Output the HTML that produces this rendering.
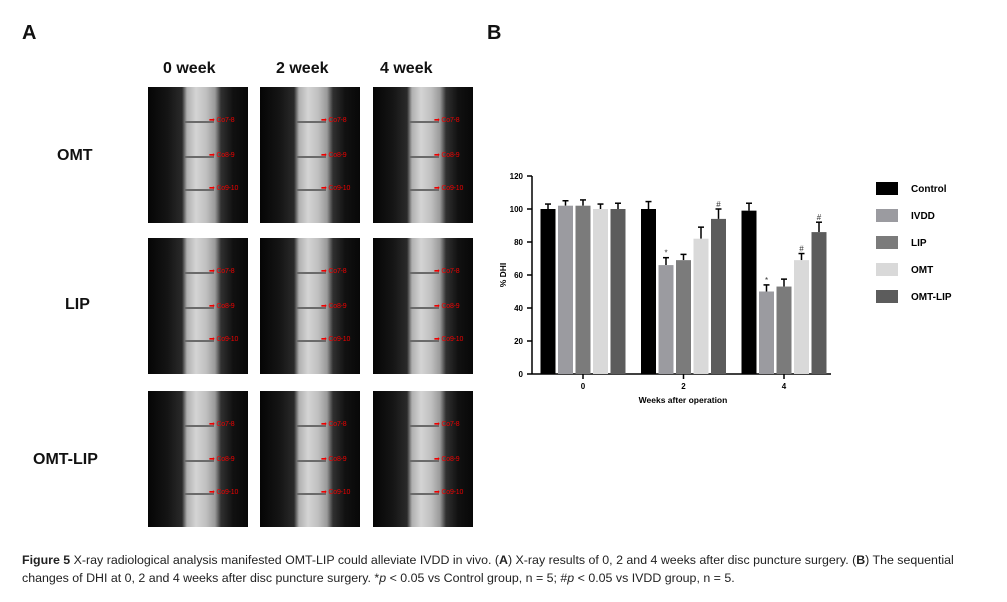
<!DOCTYPE html>
<html><head><meta charset="utf-8">
<style>
body{margin:0;width:1007px;height:602px;background:#fff;position:relative;font-family:"Liberation Sans",sans-serif;overflow:hidden}
.lbl{position:absolute;font-weight:bold;color:#111}
.xr{position:absolute;width:100px;height:136px;background:linear-gradient(90deg,#050505 0%,#151515 20%,#2a2a2a 34%,#b0b0b0 39%,#d4d4d4 48%,#c0c0c0 58%,#9a9a9a 67%,#303030 73%,#111 85%,#080808 100%)}
.xr i{position:absolute;left:36px;width:30px;height:2px;background:#6a6a6a}
.xr b{position:absolute;left:61px;color:#ee0000;font-size:7px;font-weight:normal;white-space:nowrap;letter-spacing:-0.2px}
.cap{position:absolute;left:22px;width:990px;font-size:12.4px;line-height:18px;color:#222;white-space:nowrap}
</style></head><body>
<div class="lbl" style="left:22px;top:22px;font-size:20px">A</div>
<div class="lbl" style="left:487px;top:22px;font-size:20px">B</div>
<div class="lbl" style="left:163px;top:60px;font-size:16px">0 week</div>
<div class="lbl" style="left:276px;top:60px;font-size:16px">2 week</div>
<div class="lbl" style="left:380px;top:60px;font-size:16px">4 week</div>
<div class="lbl" style="left:57px;top:147px;font-size:16px">OMT</div>
<div class="lbl" style="left:65px;top:296px;font-size:16px">LIP</div>
<div class="lbl" style="left:33px;top:451px;font-size:16px">OMT-LIP</div>
<div id="xrays"></div>
<svg id="chart" width="1007" height="602" style="position:absolute;left:0;top:0"></svg>
<div class="cap" style="top:551px"><b>Figure 5</b> X-ray radiological analysis manifested OMT-LIP could alleviate IVDD in vivo. (<b>A</b>) X-ray results of 0, 2 and 4 weeks after disc puncture surgery. (<b>B</b>) The sequential<br>changes of DHI at 0, 2 and 4 weeks after disc puncture surgery. *<i>p</i> &lt; 0.05 vs Control group, n = 5; #<i>p</i> &lt; 0.05 vs IVDD group, n = 5.</div>
<script>
const xs=[148,260,373], ys=[87,238,391];
const cont=document.getElementById('xrays');
ys.forEach((y,r)=>xs.forEach((x,c)=>{
  const d=document.createElement('div');d.className='xr';
  
  
  d.style.left=x+'px';d.style.top=y+'px';
  let h='';[['Co7-8',34],['Co8-9',69],['Co9-10',102]].forEach(([t,yy])=>{
    h+=`<i style="top:${yy}px"></i><b style="top:${yy-5}px">➡ ${t}</b>`;});
  d.innerHTML=h;cont.appendChild(d);
}));

const groups=['0','2','4'];
const series=['Control','IVDD','LIP','OMT','OMT-LIP'];
const colors=['#000000','#9b9ba0','#7b7b7b','#d9d9d9','#5c5c5c'];
const values=[[100,102,102,100,100],[100,66,69,82,94],[99,50,53,69,86]];
const errors=[[3,3,3.5,3,3.5],[4.5,4.5,3.5,7,6],[4.5,4,4.5,4,6]];
const marks=[['','','','',''],['','*','','','#'],['','*','','#','#']];
const yticks=[0,20,40,60,80,100,120];

const svg=document.getElementById('chart');const NS='http://www.w3.org/2000/svg';
function el(t,a,txt){const e=document.createElementNS(NS,t);for(const k in a)e.setAttribute(k,a[k]);if(txt!==undefined)e.textContent=txt;svg.appendChild(e);return e;}
const y=v=>374-v*(198/120);
const gx=i=>583+i*100.5;
const bx=(g,s)=>gx(g)+(s-2)*17.5;
el('line',{x1:532,y1:176,x2:532,y2:374,stroke:'#000','stroke-width':1.5});
el('line',{x1:532,y1:374,x2:831,y2:374,stroke:'#000','stroke-width':1.5});
yticks.forEach(t=>{
  el('line',{x1:527,y1:y(t),x2:532,y2:y(t),stroke:'#000','stroke-width':1.5});
  const e=el('text',{x:523,y:y(t)+3,'text-anchor':'end','font-size':8,'font-weight':'bold','font-family':'Liberation Sans'},t);
  
});
groups.forEach((g,i)=>{
  el('line',{x1:gx(i),y1:374,x2:gx(i),y2:379,stroke:'#000','stroke-width':1.5});
  const e=el('text',{x:gx(i),y:389,'text-anchor':'middle','font-size':8,'font-weight':'bold','font-family':'Liberation Sans'},g);
  
  series.forEach((s,j)=>{
    const v=values[i][j],er=errors[i][j],cx=bx(i,j);
    el('line',{x1:cx,y1:y(v),x2:cx,y2:y(v+er),stroke:'#000','stroke-width':1.5});
    el('line',{x1:cx-3,y1:y(v+er),x2:cx+3,y2:y(v+er),stroke:'#000','stroke-width':1.5});
    const b=el('rect',{x:cx-7.5,y:y(v),width:15,height:y(0)-y(v),fill:colors[j]});
    
    if(marks[i][j]){const m=el('text',{x:cx,y:y(v+er)-2,'text-anchor':'middle','font-size':8,fill:'#333','font-family':'Liberation Sans'},marks[i][j]);
      }
  });
});
let t=el('text',{x:683,y:403,'text-anchor':'middle','font-size':8.5,'font-weight':'bold','font-family':'Liberation Sans'},'Weeks after operation');

t=el('text',{x:0,y:0,'text-anchor':'middle','font-size':8.5,'font-weight':'bold','font-family':'Liberation Sans',transform:'translate(506,275) rotate(-90)'},'% DHI');

series.forEach((s,j)=>{
  const yy=182+j*27;
  const r=el('rect',{x:876,y:yy,width:22,height:13,fill:colors[j]});
  
  const e=el('text',{x:911,y:yy+10,'font-size':10,'font-weight':'bold','font-family':'Liberation Sans'},s);
  
});
</script>
</body></html>
